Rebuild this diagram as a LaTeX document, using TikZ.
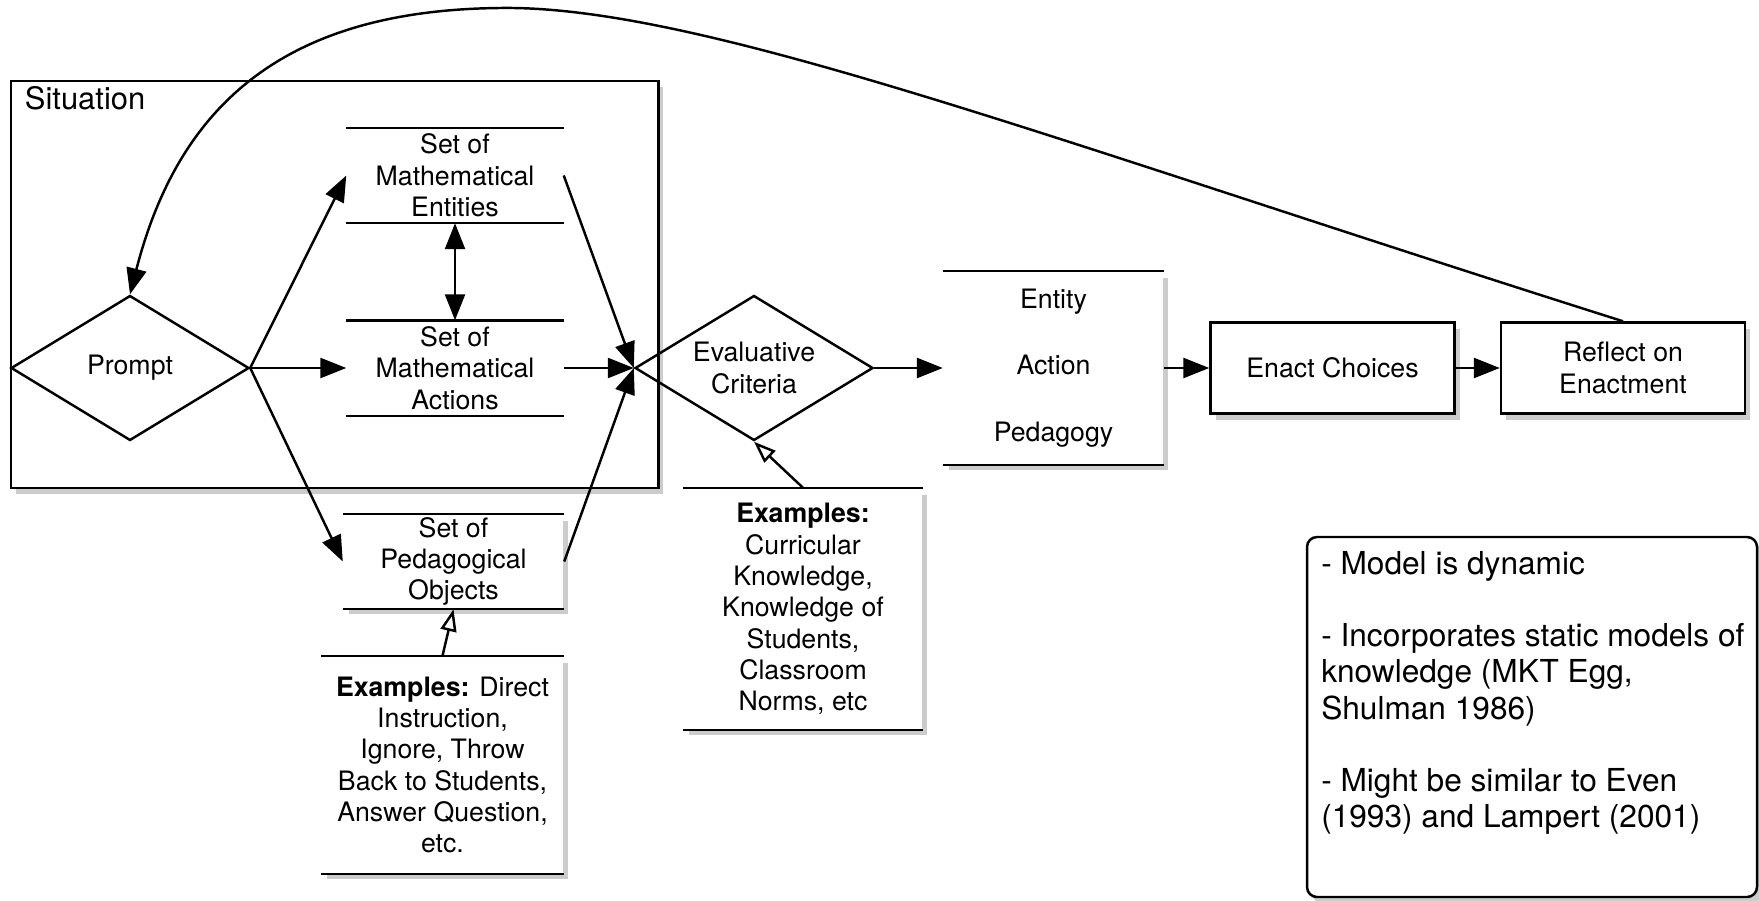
\documentclass[tikz,border=0pt]{standalone}
\usepackage{fontspec}
\setmainfont{TeX Gyre Heros}
\usetikzlibrary{shapes.geometric, arrows.meta, shadows}

\begin{document}
\begin{tikzpicture}[
    font=\fontsize{7.6}{8.9}\selectfont,
    line width=0.7pt,
    shadowed/.style={fill=white, drop shadow={opacity=0.4, shadow xshift=0.5mm, shadow yshift=-0.6mm}},
    situation/.style={rectangle, draw, line width=0.85pt, shadowed, minimum width=6.47cm, minimum height=4.07cm},
    choice/.style={diamond, draw, aspect=1.64, inner sep=0pt, minimum width=2.38cm, minimum height=1.45cm, align=center},
    setbox/.style={rectangle, align=center, inner sep=0pt, minimum width=2.15cm, minimum height=0.93cm},
    stage/.style={rectangle, draw, shadowed, align=center, minimum width=2.44cm, minimum height=0.91cm},
    example/.style={rectangle, shadowed, align=center, inner sep=0pt},
    flow/.style={-{Triangle[length=2.6mm, width=2mm]}},
    hint/.style={-{Triangle[open, length=2.2mm, width=1.6mm]}}
]
    \useasboundingbox (0,0) rectangle (17.59,9);

    % situation frame
    \node[situation] (sit) at (3.345, 6.155) {};
    \node[anchor=west, font=\fontsize{8.8}{10}\selectfont] (sitlabel) at (0.12, 8.02) {Situation};

    \node[choice] (prompt) at (1.30, 5.32) {Prompt};
    \node[setbox] (ent) at (4.55, 7.245) {Set of\\Mathematical\\Entities};
    \node[setbox] (act) at (4.55, 5.32) {Set of\\Mathematical\\Actions};
    \node[setbox, shadowed, minimum width=2.19cm] (ped) at (4.535, 3.385) {Set of\\Pedagogical\\Objects};
    \node[choice] (eval) at (7.54, 5.32) {Evaluative\\Criteria};
    \node[setbox, shadowed, minimum width=2.19cm, minimum height=1.92cm] (options) at (10.535, 5.32) {Entity\\[10pt]Action\\[10pt]Pedagogy};
    \node[stage] (enact) at (13.325, 5.32) {Enact Choices};
    \node[stage] (reflect) at (16.23, 5.32) {Reflect on\\Enactment};

    % examples
    \node[example, minimum width=2.41cm, minimum height=2.16cm] (pedex) at (4.425, 1.35) {\textbf{Examples:} Direct\\Instruction,\\Ignore, Throw\\Back to Students,\\Answer Question,\\etc.};
    \node[example, minimum width=2.38cm, minimum height=2.40cm] (evalex) at (8.03, 2.91) {\textbf{Examples:}\\Curricular\\Knowledge,\\Knowledge of\\Students,\\Classroom\\Norms, etc};

    \foreach \n in {ent, act, ped, options, pedex, evalex}
        \draw (\n.north west) -- (\n.north east) (\n.south west) -- (\n.south east);

    % notes
    \node[draw, rounded corners=1mm, shadowed, minimum width=4.5cm, minimum height=3.6cm] (notes) at (15.32, 1.83) {};
    \node[anchor=north west, align=left, inner sep=0pt, font=\fontsize{9}{10.3}\selectfont] (notetext) at (13.20, 3.50) {- Model is dynamic\\[10.3pt]- Incorporates static models of\\knowledge (MKT Egg,\\Shulman 1986)\\[10.3pt]- Might be similar to Even\\(1993) and Lampert (2001)};

    \draw[flow] (prompt.east) -- (ent.west);
    \draw[flow] (prompt.east) -- (act.west);
    \draw[flow] (prompt.east) -- (ped.west);
    \draw[flow] (ent.east) -- (eval.west);
    \draw[flow] (act.east) -- (eval.west);
    \draw[flow] (ped.east) -- (eval.west);
    \draw[{Triangle[length=2.6mm, width=2mm]}-{Triangle[length=2.6mm, width=2mm]}] (ent.south) -- (act.north);
    \draw[flow] (eval.east) -- (options.west);
    \draw[flow] (options.east) -- (enact.west);
    \draw[flow] (enact.east) -- (reflect.west);
    \draw[hint] (pedex.north) -- (ped.south);
    \draw[hint] (evalex.north) -- (eval.south);

    % feedback loop
    \coordinate (peak) at (5.0, 8.92);
    \draw[flow] (reflect.north) .. controls (10.5, 7.6) and (7.0, 8.95) .. (peak)
        .. controls (2.9, 8.9) and (1.8, 8.0) .. (prompt.north);
\end{tikzpicture}
\end{document}
